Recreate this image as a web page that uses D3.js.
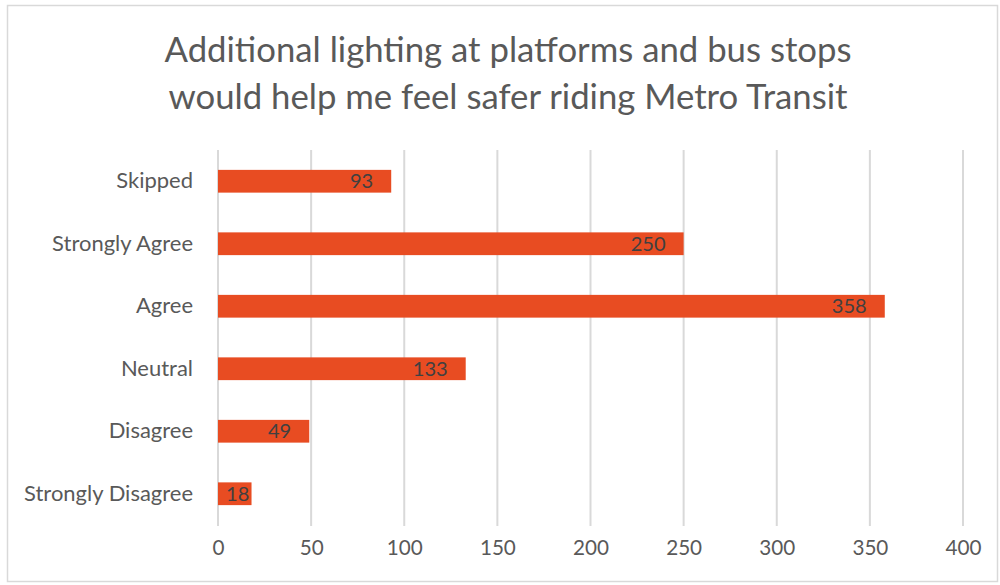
<!DOCTYPE html>
<html><head><meta charset="utf-8">
<script src="https://cdn.jsdelivr.net/npm/d3@7/dist/d3.min.js"></script>
<style>body{margin:0;background:#fff}svg{display:block}</style>
</head><body>
<svg id="c" width="1000" height="585"></svg>
<script>
const categories = ["Skipped","Strongly Agree","Agree","Neutral","Disagree","Strongly Disagree"];
const values = [93,250,358,133,49,18];
const xTicks = [0,50,100,150,200,250,300,350,400];
const titleLines = ["Additional lighting at platforms and bus stops","would help me feel safer riding Metro Transit"];

const svg = d3.select("#c");
const font = "Lato, 'Open Sans', sans-serif";

// fit a font size so that the given text has the target width
function fitSize(text, target, base) {
  const t = svg.append("text").style("font-family",font).style("font-size",base+"px").text(text);
  const w = t.node().getComputedTextLength();
  t.remove();
  return base * target / w;
}
const titleSize = fitSize(titleLines[0], 687, 30);
const catSize = fitSize("Strongly Disagree", 169, 20);
const tickSize = fitSize("400", 36, 20);
const labSize = fitSize("358", 35, 20);

svg.append("rect").attr("x",7.5).attr("y",5.5).attr("width",990).attr("height",576)
  .attr("fill","#fff").attr("stroke","#d9d9d9").attr("stroke-width",1.5);

const x = d3.scaleLinear().domain([0,400]).range([218,963]);
const y = d3.scaleBand().domain(categories).range([150,525]).paddingInner(0.636).paddingOuter(0.318);

// gridlines
svg.append("g").selectAll("line").data(xTicks).join("line")
  .attr("x1",d=>x(d)).attr("x2",d=>x(d)).attr("y1",150).attr("y2",526)
  .attr("stroke","#d9d9d9").attr("stroke-width",2);

// x axis labels
const xa = svg.append("g").attr("transform","translate(0,526)")
  .call(d3.axisBottom(x).tickValues(xTicks).tickSize(0).tickPadding(14));
xa.select(".domain").remove();
xa.selectAll("text").attr("fill","#595959").style("font-family",font).style("font-size",tickSize+"px");

// y axis labels
const ya = svg.append("g").attr("transform","translate(218,0)")
  .call(d3.axisLeft(y).tickSize(0).tickPadding(25));
ya.select(".domain").remove();
ya.selectAll("text").attr("fill","#595959").style("font-family",font).style("font-size",catSize+"px");

// bars
svg.append("g").selectAll("rect").data(categories).join("rect")
  .attr("x",x(0)).attr("y",c=>y(c)).attr("height",y.bandwidth())
  .attr("width",(c,i)=>x(values[i])-x(0)).attr("fill","#E84C22");

// labels
const lab = svg.append("g").selectAll("text").data(categories).join("text")
  .attr("y",c=>y(c)+y.bandwidth()/2).attr("dy","0.36em")
  .attr("fill","#404040").style("font-family",font).style("font-size",labSize+"px")
  .text((c,i)=>values[i]);
lab.each(function(c,i){
  const w = this.getComputedTextLength();
  const end = Math.max(x(values[i]) - 18, x(0) + 8 + w);
  d3.select(this).attr("x", end).attr("text-anchor","end");
});

// title
svg.append("g").selectAll("text").data(titleLines).join("text")
  .attr("x",508).attr("y",(d,i)=>62+i*47).attr("text-anchor","middle")
  .attr("fill","#595959").style("font-family",font).style("font-size",titleSize+"px")
  .text(d=>d);
</script>
</body></html>
